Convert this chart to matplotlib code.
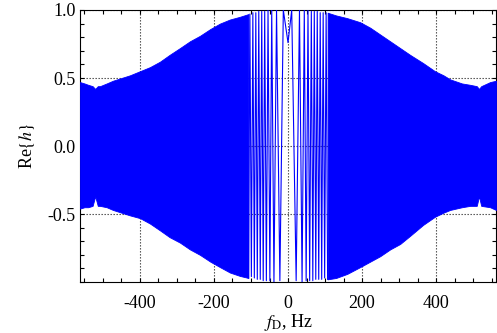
import numpy as np
import matplotlib
matplotlib.use('Agg')
import matplotlib.pyplot as plt
from matplotlib.ticker import MultipleLocator

plt.rcParams['font.family'] = ['Liberation Serif', 'DejaVu Serif']
plt.rcParams['mathtext.fontset'] = 'stix'

# outer (dense) part of the signal: envelope
left_f = [-562, -550, -540, -528, -521, -514, -508, -490, -473, -450, -427, -400, -373, -346, -320, -292,
          -265, -238, -210, -184, -157, -130, -107]
left_upper = [0.47, 0.46, 0.45, 0.44, 0.42, 0.44, 0.44, 0.46, 0.48, 0.50, 0.52, 0.55, 0.58, 0.62, 0.67, 0.72,
              0.77, 0.81, 0.86, 0.90, 0.93, 0.95, 0.97]
left_lower = [-0.46, -0.45, -0.45, -0.44, -0.37, -0.44, -0.44, -0.45, -0.47, -0.49, -0.51, -0.53, -0.57, -0.62, -0.67, -0.71,
              -0.76, -0.80, -0.85, -0.89, -0.93, -0.955, -0.97]

right_f = [107, 130, 160, 195, 222, 249, 276, 303, 330, 365, 397, 420, 438, 470, 492, 510, 516, 522, 546, 562]
right_upper = [0.98, 0.96, 0.94, 0.91, 0.87, 0.82, 0.77, 0.72, 0.67, 0.61, 0.55, 0.52, 0.49, 0.46, 0.45, 0.44, 0.42, 0.44, 0.47, 0.48]
right_lower = [-0.98, -0.97, -0.94, -0.89, -0.85, -0.81, -0.76, -0.72, -0.66, -0.58, -0.52, -0.49, -0.47, -0.45, -0.44, -0.44, -0.37, -0.44, -0.45, -0.47]

# central (resolved) oscillations: extrema
center_f = [-107, -103, -99, -95, -91, -87, -83, -79, -75, -71, -67, -63, -58.5, -54, -49, -44, -38, -31, -22, -12.7,
            0, 10, 22, 31, 38, 44, 49, 54, 58.5, 63, 67, 71, 75, 79, 83, 87, 91, 95, 99, 103, 107]
center_h = [-0.97, 0.97, -0.96, 0.98, -0.97, 0.98, -0.98, 0.99, -0.98, 0.99, -0.99, 0.99, -0.99, 1.0, -0.99, 1.0, -1.0, 1.0, -0.99, 1.0,
            0.76, 1.0, -0.99, 1.0, -1.0, 1.0, -0.99, 1.0, -0.99, 0.99, -0.99, 0.99, -0.98, 0.99, -0.98, 0.98, -0.98, 0.98, -0.97, 0.98, -0.98]

x_ticks = [-400, -200, 0, 200, 400]
y_ticks = [-0.5, 0.0, 0.5, 1.0]


def main():
    fig = plt.figure(figsize=(4.97, 3.33), dpi=100)
    ax = fig.add_axes([0.161, 0.153, 0.837, 0.817])

    blue = '#0000ff'
    ax.fill_between(left_f, left_lower, left_upper, color=blue, lw=0.6, edgecolor=blue, zorder=3)
    ax.fill_between(right_f, right_lower, right_upper, color=blue, lw=0.6, edgecolor=blue, zorder=3)
    ax.plot(center_f, center_h, color=blue, lw=0.8, zorder=3)

    ax.set_xlim(-562, 562)
    ax.set_ylim(-1.0, 1.0)
    ax.set_xticks(x_ticks)
    ax.set_yticks(y_ticks)
    ax.set_xticklabels([str(t) for t in x_ticks])
    ax.set_yticklabels(['%.1f' % t for t in y_ticks])
    ax.xaxis.set_minor_locator(MultipleLocator(50))
    ax.yaxis.set_minor_locator(MultipleLocator(0.1))
    ax.tick_params(which='both', direction='in', top=True, right=True, length=3, width=0.8,
                   labelsize=13)
    ax.tick_params(axis='x', which='major', pad=9)
    ax.tick_params(axis='y', which='major', pad=3)

    ax.set_axisbelow(True)
    ax.grid(True, which='major', color='0.25', linestyle=(0, (1.2, 1.5)), linewidth=0.8)

    ax.set_xlabel(r'$f_{\mathrm{D}}$, Hz', fontsize=13, labelpad=0)
    ax.set_ylabel(r'Re$\{h\}$', fontsize=13, labelpad=8)

    fig.savefig('out.png', dpi=100)


if __name__ == "__main__":
    main()
